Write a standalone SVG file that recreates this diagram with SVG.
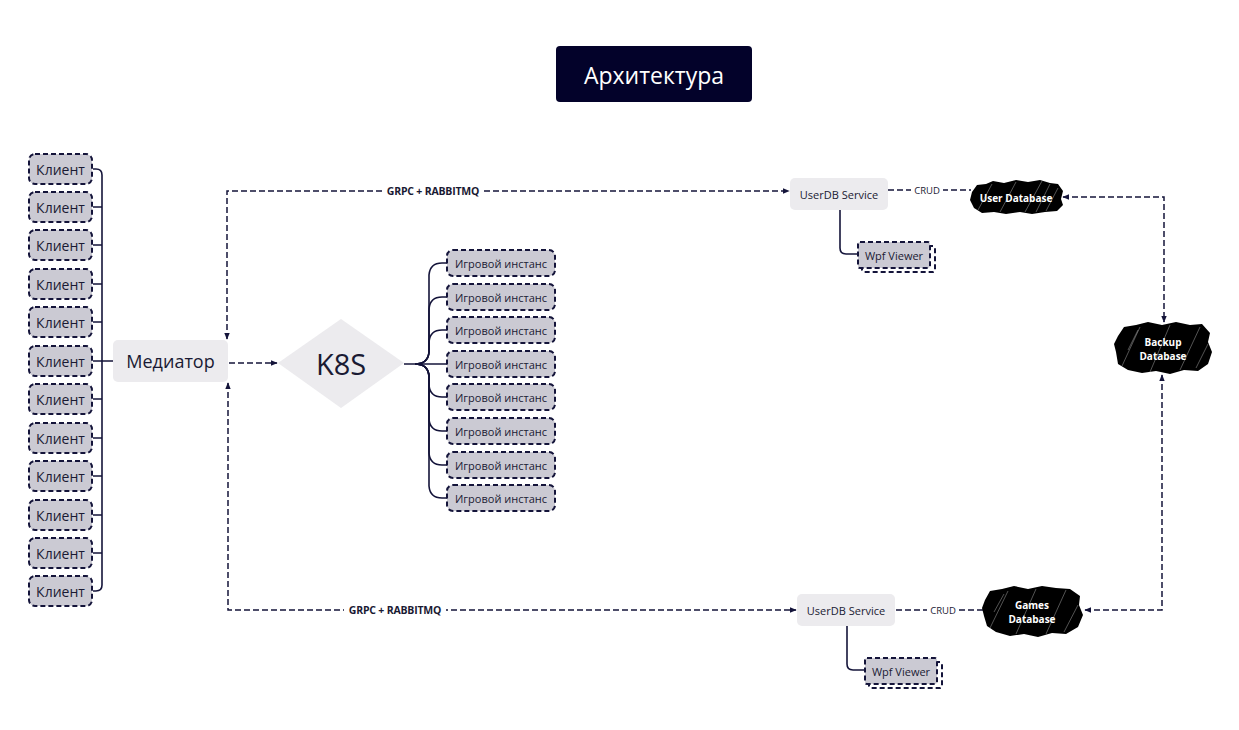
<svg xmlns="http://www.w3.org/2000/svg" width="1239" height="730" viewBox="0 0 1239 730">
<style>
.t{font-family:"Open Sans","Noto Sans","Liberation Sans",sans-serif;fill:#1a1a33}
.client rect{fill:#cbcad3;stroke:#14143a;stroke-width:2;stroke-dasharray:5 3}
.client text{font-size:14px;text-anchor:middle;dominant-baseline:central}
.inst rect{fill:#cbcad3;stroke:#14143a;stroke-width:2;stroke-dasharray:5 3}
.inst text{font-size:11px;text-anchor:middle;dominant-baseline:central}
.svc{fill:#ecebee}
.solid{fill:none;stroke:#14143a;stroke-width:1.6}
.dash{fill:none;stroke:#14143a;stroke-width:1.5;stroke-dasharray:6 3}
.lbl{font-size:10.5px;font-weight:bold;text-anchor:middle;dominant-baseline:central;letter-spacing:-0.2px}
.crud{font-size:9.5px;text-anchor:middle;dominant-baseline:central}
.blob{fill:#000}
.hatch{stroke:#fff;stroke-width:0.6;opacity:0.55;fill:none}
.dbt{font-family:"Open Sans","Noto Sans","Liberation Sans",sans-serif;fill:#fff;font-size:10px;font-weight:bold;text-anchor:middle;dominant-baseline:central}
</style>
<defs>
<marker id="ah" viewBox="0 0 10 10" refX="9" refY="5" markerWidth="7" markerHeight="7" orient="auto-start-reverse" markerUnits="userSpaceOnUse">
<path d="M0,1 L10,5 L0,9 Z" fill="#14143a"/>
</marker>
</defs>
<rect width="1239" height="730" fill="#fff"/>

<g id="title">
<rect x="556" y="46" width="196" height="56" rx="4" fill="#03022a"/>
<text x="654" y="75" class="t" style="fill:#fff;font-size:23px;text-anchor:middle;dominant-baseline:central">Архитектура</text>
</g>

<g id="connectors">
<path class="solid" d="M93,169 H96 Q102,169 102,175 V585 Q102,591 96,591 H93"/>
<path class="solid" d="M93,207 H102 M93,245 H102 M93,284 H102 M93,322 H102 M93,361 H113 M93,399 H102 M93,438 H102 M93,476 H102 M93,515 H102 M93,553 H102"/>
<path class="dash" d="M229,363 H277" marker-end="url(#ah)"/>
<path class="solid" d="M404,364 H447"/>
<path class="solid" d="M415,364 Q428,364 429,352 V275 Q430,263 442,263 H447"/>
<path class="solid" d="M415,364 Q428,364 429,352 V309 Q430,297 442,297 H447"/>
<path class="solid" d="M415,364 Q428,364 429,352 V342 Q430,330 442,330 H447"/>
<path class="solid" d="M415,364 Q428,364 429,376 V385 Q430,397 442,397 H447"/>
<path class="solid" d="M415,364 Q428,364 429,376 V419 Q430,431 442,431 H447"/>
<path class="solid" d="M415,364 Q428,364 429,376 V453 Q430,465 442,465 H447"/>
<path class="solid" d="M415,364 Q428,364 429,376 V486 Q430,498 442,498 H447"/>
<path class="dash" d="M227,339 V191 H789" marker-start="url(#ah)" marker-end="url(#ah)"/>
<rect x="382" y="184" width="102" height="14" fill="#fff"/>
<text x="433" y="191" class="t lbl">GRPC + RABBITMQ</text>
<path class="dash" d="M228,383 V610 H796" marker-start="url(#ah)" marker-end="url(#ah)"/>
<rect x="344" y="603" width="102" height="14" fill="#fff"/>
<text x="395" y="610" class="t lbl">GRPC + RABBITMQ</text>
<path class="dash" d="M888,190 H971"/>
<rect x="911" y="184" width="32" height="12" fill="#fff"/>
<text x="927" y="190" class="t crud">CRUD</text>
<path class="dash" d="M896,610 H983"/>
<rect x="927" y="604" width="32" height="12" fill="#fff"/>
<text x="943" y="610" class="t crud">CRUD</text>
<path class="solid" d="M840,210 V248 Q840,254 846,254 H858"/>
<path class="solid" d="M847,626 V664 Q847,670 853,670 H865"/>
<path class="dash" d="M1063,197 H1164 V322" marker-start="url(#ah)" marker-end="url(#ah)"/>
<path class="dash" d="M1085,610 H1162 V375" marker-start="url(#ah)" marker-end="url(#ah)"/>
</g>

<g id="clients">
<g class="client" id="client1"><rect x="29" y="154" width="63" height="30" rx="6"/><text x="60.5" y="169" class="t">Клиент</text></g>
<g class="client" id="client2"><rect x="29" y="192" width="63" height="30" rx="6"/><text x="60.5" y="207" class="t">Клиент</text></g>
<g class="client" id="client3"><rect x="29" y="230" width="63" height="30" rx="6"/><text x="60.5" y="245" class="t">Клиент</text></g>
<g class="client" id="client4"><rect x="29" y="269" width="63" height="30" rx="6"/><text x="60.5" y="284" class="t">Клиент</text></g>
<g class="client" id="client5"><rect x="29" y="307" width="63" height="30" rx="6"/><text x="60.5" y="322" class="t">Клиент</text></g>
<g class="client" id="client6"><rect x="29" y="346" width="63" height="30" rx="6"/><text x="60.5" y="361" class="t">Клиент</text></g>
<g class="client" id="client7"><rect x="29" y="384" width="63" height="30" rx="6"/><text x="60.5" y="399" class="t">Клиент</text></g>
<g class="client" id="client8"><rect x="29" y="423" width="63" height="30" rx="6"/><text x="60.5" y="438" class="t">Клиент</text></g>
<g class="client" id="client9"><rect x="29" y="461" width="63" height="30" rx="6"/><text x="60.5" y="476" class="t">Клиент</text></g>
<g class="client" id="client10"><rect x="29" y="500" width="63" height="30" rx="6"/><text x="60.5" y="515" class="t">Клиент</text></g>
<g class="client" id="client11"><rect x="29" y="538" width="63" height="30" rx="6"/><text x="60.5" y="553" class="t">Клиент</text></g>
<g class="client" id="client12"><rect x="29" y="576" width="63" height="30" rx="6"/><text x="60.5" y="591" class="t">Клиент</text></g>
</g>

<g id="mediator">
<rect x="113" y="340" width="115" height="42" rx="5" class="svc"/>
<text x="170.5" y="361" class="t" style="font-size:18px;text-anchor:middle;dominant-baseline:central">Медиатор</text>
</g>

<g id="k8s">
<polygon points="278,363 341,319 404,363 341,408" class="svc"/>
<text x="341" y="363" class="t" style="font-size:29px;text-anchor:middle;dominant-baseline:central">K8S</text>
</g>

<g id="instances">
<g class="inst" id="inst1"><rect x="447" y="250" width="108" height="26" rx="6"/><text x="501" y="263" class="t">Игровой инстанс</text></g>
<g class="inst" id="inst2"><rect x="447" y="284" width="108" height="26" rx="6"/><text x="501" y="297" class="t">Игровой инстанс</text></g>
<g class="inst" id="inst3"><rect x="447" y="317" width="108" height="26" rx="6"/><text x="501" y="330" class="t">Игровой инстанс</text></g>
<g class="inst" id="inst4"><rect x="447" y="351" width="108" height="26" rx="6"/><text x="501" y="364" class="t">Игровой инстанс</text></g>
<g class="inst" id="inst5"><rect x="447" y="384" width="108" height="26" rx="6"/><text x="501" y="397" class="t">Игровой инстанс</text></g>
<g class="inst" id="inst6"><rect x="447" y="418" width="108" height="26" rx="6"/><text x="501" y="431" class="t">Игровой инстанс</text></g>
<g class="inst" id="inst7"><rect x="447" y="452" width="108" height="26" rx="6"/><text x="501" y="465" class="t">Игровой инстанс</text></g>
<g class="inst" id="inst8"><rect x="447" y="485" width="108" height="26" rx="6"/><text x="501" y="498" class="t">Игровой инстанс</text></g>
</g>

<g id="userdb-service-top">
<rect x="790" y="178" width="98" height="32" rx="5" class="svc"/>
<text x="839" y="194" class="t" style="font-size:11px;text-anchor:middle;dominant-baseline:central">UserDB Service</text>
</g>

<g id="userdb-service-bottom">
<rect x="797" y="594" width="98" height="32" rx="5" class="svc"/>
<text x="846" y="610" class="t" style="font-size:11px;text-anchor:middle;dominant-baseline:central">UserDB Service</text>
</g>

<g id="wpf-top">
<rect x="862" y="246" width="73" height="26" rx="2" fill="#fff" stroke="#14143a" stroke-width="2" stroke-dasharray="5 3"/>
<rect x="858" y="242" width="72" height="26" rx="2" fill="#cbcad3" stroke="#14143a" stroke-width="2" stroke-dasharray="5 3"/>
<text x="894" y="255" class="t" style="font-size:11px;text-anchor:middle;dominant-baseline:central">Wpf Viewer</text>
</g>

<g id="wpf-bottom">
<rect x="869" y="662" width="73" height="26" rx="2" fill="#fff" stroke="#14143a" stroke-width="2" stroke-dasharray="5 3"/>
<rect x="865" y="658" width="72" height="26" rx="2" fill="#cbcad3" stroke="#14143a" stroke-width="2" stroke-dasharray="5 3"/>
<text x="901" y="671" class="t" style="font-size:11px;text-anchor:middle;dominant-baseline:central">Wpf Viewer</text>
</g>

<g id="user-database">
<path class="blob" d="M972,192 L977,185 L986,184 L993,181 L1004,183 L1016,180 L1028,182 L1040,180 L1050,183 L1058,184 L1063,191 L1061,199 L1063,205 L1057,211 L1045,212 L1032,214 L1020,212 L1006,214 L994,212 L982,213 L974,208 L970,200 Z"/>
<path class="hatch" d="M978,210 L992,184 M1000,212 L1016,182 M1025,212 L1042,181 M1046,211 L1058,188 M1036,212 L1050,184"/>
<text x="1016" y="198" class="dbt">User Database</text>
</g>

<g id="backup-database">
<path class="blob" d="M1118,336 L1124,327 L1136,325 L1148,322 L1162,325 L1176,322 L1190,325 L1202,324 L1210,333 L1208,342 L1212,352 L1208,364 L1198,371 L1184,370 L1170,374 L1156,371 L1142,373 L1128,370 L1118,364 L1116,352 L1114,344 Z"/>
<path class="hatch" d="M1122,366 L1140,327 M1150,372 L1170,325 M1180,370 L1200,327 M1196,368 L1208,344 M1128,350 L1138,330"/>
<text x="1163" y="342" class="dbt">Backup</text>
<text x="1163" y="356" class="dbt">Database</text>
</g>

<g id="games-database">
<path class="blob" d="M985,600 L990,591 L1002,589 L1014,586 L1028,589 L1042,586 L1056,588 L1070,589 L1080,596 L1079,605 L1083,615 L1078,627 L1066,634 L1052,633 L1038,637 L1024,634 L1010,636 L996,632 L987,626 L984,616 L982,608 Z"/>
<path class="hatch" d="M990,628 L1008,591 M1016,634 L1036,589 M1046,634 L1066,590 M1064,632 L1078,605 M994,612 L1004,594"/>
<text x="1032" y="605" class="dbt">Games</text>
<text x="1032" y="619" class="dbt">Database</text>
</g>
</svg>
